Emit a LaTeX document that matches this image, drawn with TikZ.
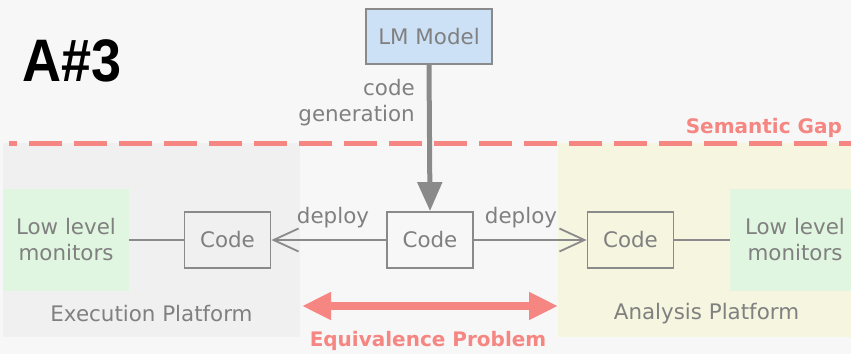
\documentclass[tikz,border=0pt]{standalone}
\usepackage{fontspec}
\setmainfont{DejaVu Sans}
\newfontfamily\headfont{Liberation Sans}
\usetikzlibrary{arrows.meta}

\definecolor{bgc}{RGB}{247,247,247}
\definecolor{execc}{RGB}{240,240,240}
\definecolor{anac}{RGB}{246,245,224}
\definecolor{monc}{RGB}{224,246,224}
\definecolor{lmc}{RGB}{204,225,246}
\definecolor{txtc}{RGB}{128,128,128}
\definecolor{linec}{RGB}{138,138,138}
\definecolor{salmon}{RGB}{245,134,130}

\tikzset{
  txt/.style={inner sep=0pt, text=txtc, font=\fontsize{21.4}{26}\selectfont, align=center},
  boxed/.style={txt, draw=linec, line width=1.8pt},
  codebox/.style={boxed, minimum width=86pt, minimum height=56pt},
  monbox/.style={txt, fill=monc, minimum width=126pt, minimum height=102pt},
  redlabel/.style={inner sep=0pt, text=salmon, font=\fontsize{20}{24}\selectfont\bfseries},
  link/.style={draw=linec, line width=1.8pt},
  deployarrow/.style={link, -{Straight Barb[length=25pt,width=23pt,line width=1.8pt]}},
}

\begin{document}
\begin{tikzpicture}[x=1pt,y=-1pt]
  % canvas
  \fill[bgc] (0,0) rectangle (851,354);
  \useasboundingbox (0,0) rectangle (851,354);

  % platform areas
  \fill[execc] (3,143) rectangle (300,337);
  \fill[anac] (558,143) rectangle (851,337);

  % title
  \node[inner sep=0pt, anchor=base west] (title) at (22,81)
    {\scalebox{0.9}[1]{\headfont\fontsize{60}{60}\selectfont\bfseries A\#3}};

  % semantic gap boundary
  \draw[salmon, line width=5pt, dash pattern=on 33pt off 12pt, dash phase=25pt]
    (9,143.5) -- (851,143.5);
  \node[redlabel, anchor=base east] (gap) at (842,133) {Semantic Gap};

  % nodes
  \node[boxed, fill=lmc, minimum width=126pt, minimum height=55pt] (lm) at (429,36.5) {LM Model};
  \node[codebox] (cmid) at (430,240) {Code};
  \node[codebox] (cleft) at (227.5,240) {Code};
  \node[codebox] (cright) at (630.5,240) {Code};
  \node[monbox] (mleft) at (66,240) {Low level\\monitors};
  \node[monbox, minimum width=130pt] (mright) at (795,240) {Low level\\monitors};

  % platform labels
  \node[txt] (execlbl) at (151.5,314) {Execution Platform};
  \node[txt] (analbl) at (706.5,314) {Analysis Platform};

  % code generation
  \draw[draw=linec, line width=5pt, -{Triangle[length=29pt,width=24pt]}] (lm.south) -- (cmid.north);
  \node[txt, align=right, anchor=east] (genlbl) at (415,103) {code\\generation};

  % deployment
  \draw[deployarrow] (cmid.west) -- (cleft.east);
  \draw[deployarrow] (cmid.east) -- (cright.west);
  \node[txt] (dep1) at (333,218) {deploy};
  \node[txt] (dep2) at (521,218) {deploy};

  % monitor links
  \draw[link] (cleft.west) -- (mleft.east);
  \draw[link] (cright.east) -- (mright.west);

  % equivalence problem
  \coordinate (eqa) at (302,306);
  \coordinate (eqb) at (558,306);
  \draw[salmon, line width=8pt, {Triangle[length=29pt,width=26pt]}-{Triangle[length=29pt,width=26pt]}] (eqa) -- (eqb);
  \node[redlabel] (eqlbl) at (428,341) {Equivalence Problem};
\end{tikzpicture}
\end{document}
